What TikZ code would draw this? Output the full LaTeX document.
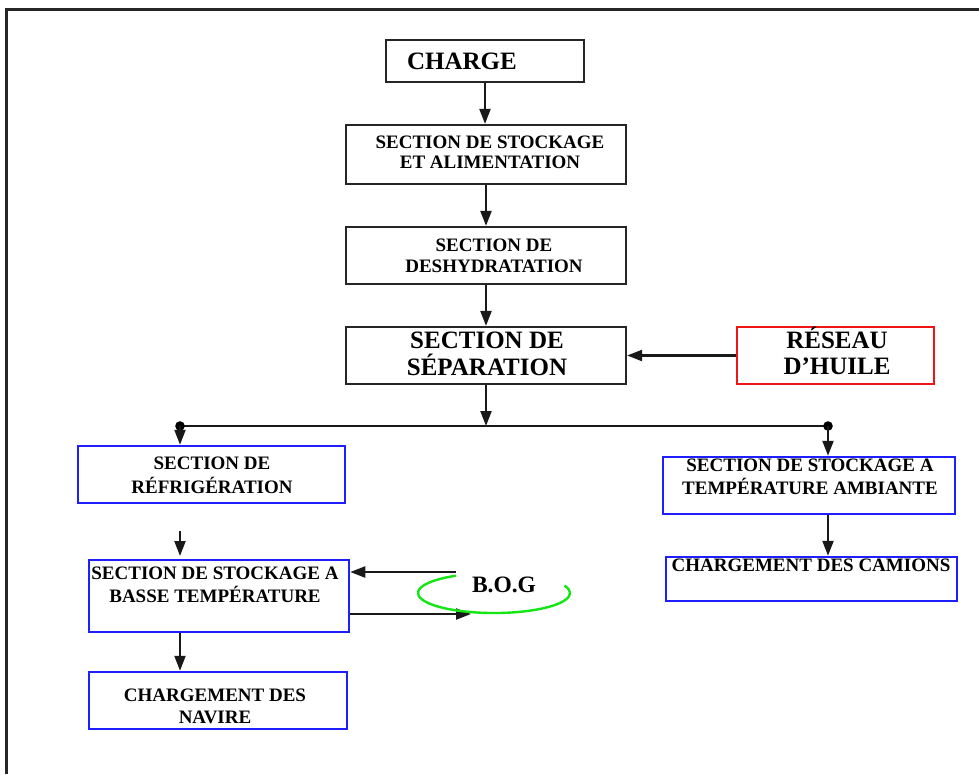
\documentclass[tikz,border=0pt]{standalone}
\usepackage{fontspec}
\setmainfont{Liberation Serif}
\usetikzlibrary{arrows.meta,fit}
\definecolor{myblue}{RGB}{30,30,255}
\definecolor{myred}{RGB}{240,20,20}
\definecolor{mygreen}{RGB}{20,230,20}
\begin{document}
\begin{tikzpicture}[x=1pt,y=-1pt,
  box/.style={draw=black!85, line width=2.2pt, inner sep=0pt},
  bbox/.style={draw=myblue, line width=2.5pt, inner sep=0pt},
  rbox/.style={draw=myred, line width=2.2pt, inner sep=0pt},
  txt/.style={inner sep=0pt, align=center, font=\bfseries\fontsize{19}{22}\selectfont},
  bigtxt/.style={inner sep=0pt, align=center, font=\bfseries\fontsize{25}{27}\selectfont},
  conn/.style={draw=black!90, line width=2.2pt},
  arr/.style={conn, -{Triangle[length=15pt,width=11pt]}}]
\useasboundingbox (0,0) rectangle (979,774);
% outer frame
\coordinate (fbl) at (6,774);
\coordinate (ftl) at (6,9);
\coordinate (ftr) at (979,9);
\draw[draw=black!85, line width=3pt] (fbl) -- (ftl) -- (ftr);
% boxes
\node[box, fit={(386,40) (584,82)}] (charge) {};
\node[box, fit={(346,125) (626,184)}] (stock) {};
\node[box, fit={(346,227) (626,284)}] (deshy) {};
\node[box, fit={(346,327) (626,384)}] (sep) {};
\node[rbox, fit={(737,327) (934,384)}] (reseau) {};
\node[bbox, fit={(78,446) (345,503)}] (refrig) {};
\node[bbox, fit={(89,560) (349,632)}] (stockbt) {};
\node[bbox, fit={(89,672) (347,729)}] (navire) {};
\node[bbox, fit={(663,457) (955,514)}] (amb) {};
\node[bbox, fit={(666,557) (957,601)}] (cam) {};
% texts
\node[bigtxt] (tcharge) at (462,61) {CHARGE};
\node[txt, font=\bfseries\fontsize{19}{20}\selectfont] (tstock) at (490,152) {SECTION DE STOCKAGE\\ET ALIMENTATION};
\node[txt, font=\bfseries\fontsize{19}{21}\selectfont] (tdeshy) at (494,255.5) {SECTION DE\\DESHYDRATATION};
\node[bigtxt] (tsep) at (487,353.5) {SECTION DE\\SÉPARATION};
\node[bigtxt, font=\bfseries\fontsize{25}{26}\selectfont] (treseau) at (837,351) {RÉSEAU\\D’HUILE};
\node[txt, font=\bfseries\fontsize{19}{24}\selectfont] (trefrig) at (212,475) {SECTION DE\\RÉFRIGÉRATION};
\node[txt, font=\bfseries\fontsize{19}{23}\selectfont] (tstockbt) at (215,584.5) {SECTION DE STOCKAGE A\\BASSE TEMPÉRATURE};
\node[txt] (tnavire) at (215,706) {CHARGEMENT DES\\NAVIRE};
\node[txt, font=\bfseries\fontsize{19}{23}\selectfont] (tamb) at (810,476.5) {SECTION DE STOCKAGE A\\TEMPÉRATURE AMBIANTE};
\node[txt] (tcam) at (811,565) {CHARGEMENT DES CAMIONS};
\node[bigtxt, font=\bfseries\fontsize{23.5}{25}\selectfont] (tbog) at (504,585) {B.O.G};
% main chain
\draw[arr] (charge.south) -- (charge.south |- stock.north);
\draw[arr] (stock.south) -- (stock.south |- deshy.north);
\draw[arr] (deshy.south) -- (deshy.south |- sep.north);
\draw[arr] (reseau.west) -- (reseau.west -| sep.east);
% split
\coordinate (jl) at (180,426);
\coordinate (jr) at (828,426);
\draw[arr] (sep.south) -- (sep.south |- jl);
\draw[conn] (jl) -- (jr);
\fill[black] (jl) circle[radius=4.8];
\fill[black] (jr) circle[radius=4.8];
% left branch
\draw[arr] (jl) -- (jl |- refrig.north);
\coordinate (fa1) at (180,531);
\coordinate (fa2) at (180,556);
\draw[arr] (fa1) -- (fa2);
\draw[arr] (stockbt.south -| jl) -- (navire.north -| jl);
% right branch
\draw[arr] (jr) -- (jr |- amb.north);
\draw[arr] (amb.south -| jr) -- (cam.north -| jr);
% BOG loop
\coordinate (b1) at (456,572);
\coordinate (b2) at (471,614);
\draw[arr] (b1) -- (b1 -| stockbt.east);
\draw[arr] (b2 -| stockbt.east) -- (b2);
\coordinate (e1) at (456,575.7);
\draw[draw=mygreen, line width=2.4pt] (e1) arc[start angle=240, end angle=-22, x radius=76, y radius=20];
\end{tikzpicture}
\end{document}
